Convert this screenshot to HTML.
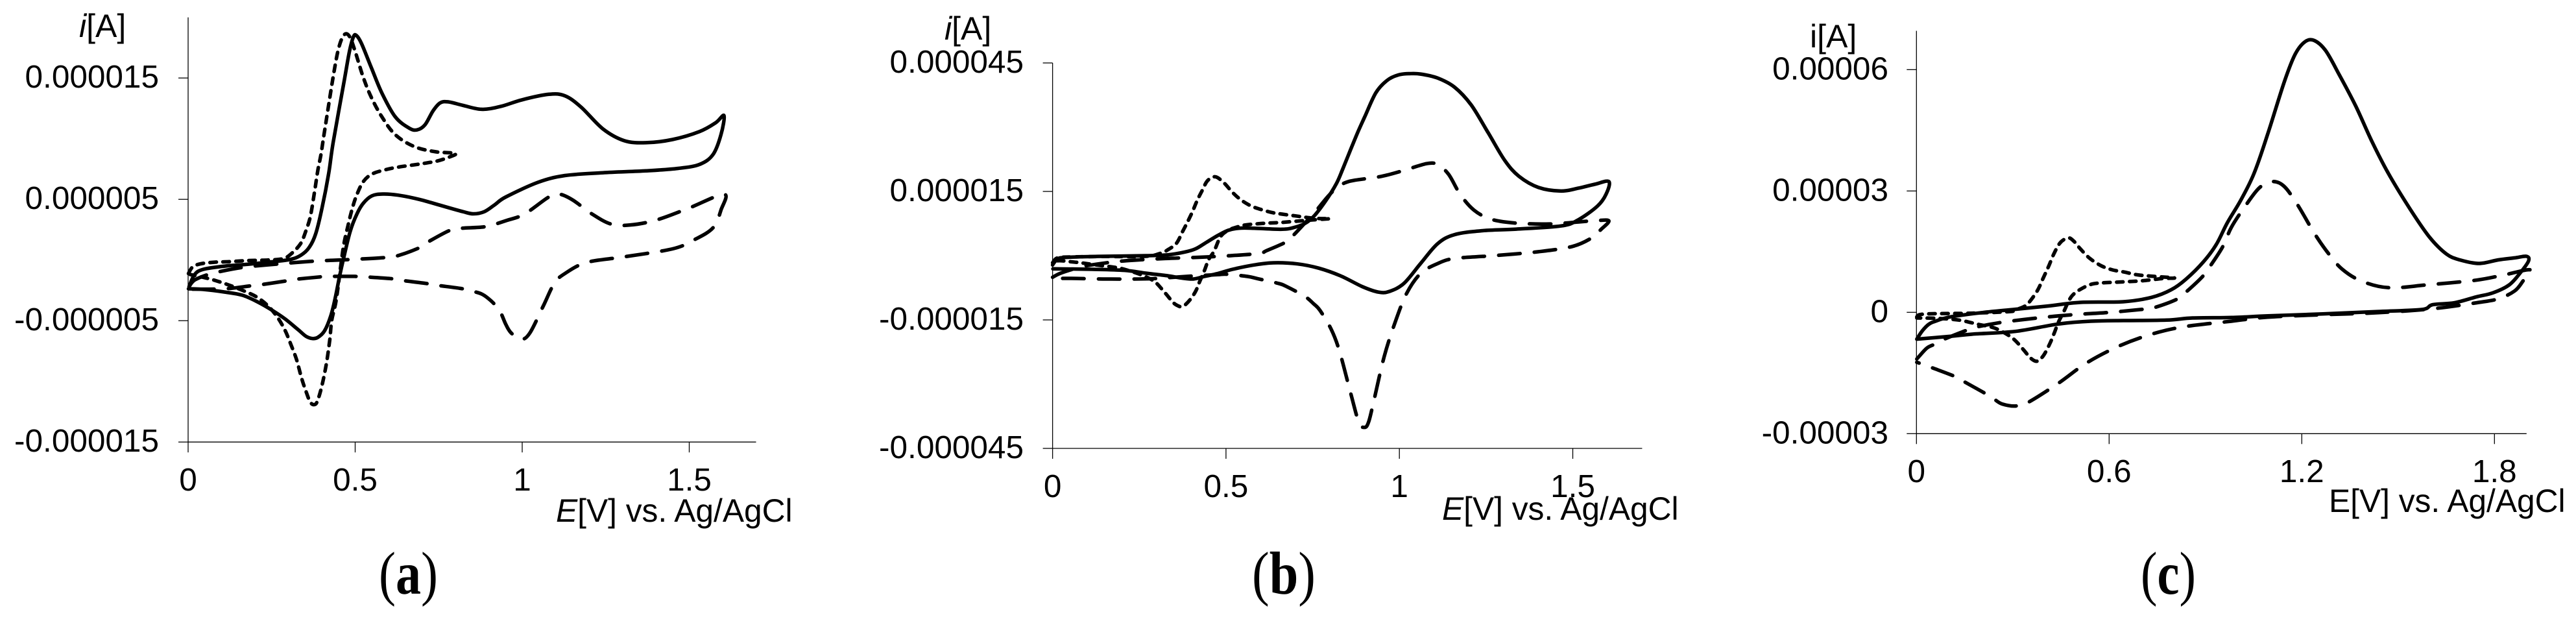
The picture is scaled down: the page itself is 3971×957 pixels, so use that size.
<!DOCTYPE html>
<html lang="en">
<head>
<meta charset="utf-8">
<title>Cyclic voltammograms (a), (b), (c)</title>
<style>
html,body{margin:0;padding:0;background:#fff;}
svg{display:block;}
text{font-family:"Liberation Sans",sans-serif;fill:#000;}
.serif{font-family:"Liberation Serif",serif;}
</style>
</head>
<body>
<svg id="chart" xmlns="http://www.w3.org/2000/svg" width="3971" height="957" viewBox="0 0 3971 957">
<rect x="0" y="0" width="3971" height="957" fill="#fff"/>
<text x="122" y="57" font-size="50"><tspan font-style="italic">i</tspan>[A]</text>
<text x="857" y="804" font-size="49.7"><tspan font-style="italic">E</tspan>[V] vs. Ag/AgCl</text>
<text class="serif" x="584" y="915" font-size="93" textLength="91" lengthAdjust="spacingAndGlyphs">(<tspan font-weight="bold">a</tspan>)</text>
<text x="1456" y="61" font-size="50"><tspan font-style="italic">i</tspan>[A]</text>
<text x="2223" y="801" font-size="49.7"><tspan font-style="italic">E</tspan>[V] vs. Ag/AgCl</text>
<text class="serif" x="1930" y="915" font-size="93" textLength="98" lengthAdjust="spacingAndGlyphs">(<tspan font-weight="bold">b</tspan>)</text>
<text x="2790" y="73" font-size="50">i[A]</text>
<text x="3590" y="789" font-size="49.7">E[V] vs. Ag/AgCl</text>
<text class="serif" x="3300" y="915" font-size="93" textLength="85" lengthAdjust="spacingAndGlyphs">(<tspan font-weight="bold">c</tspan>)</text>
</svg>
<script>
// Tick values: E in V, i in microamps; labels as printed (amps).
const aXTicks = [0, 0.5, 1, 1.5];
const aXLabels = ["0", "0.5", "1", "1.5"];
const aYTicks = [15, 5, -5, -15];
const aYLabels = ["0.000015", "0.000005", "-0.000005", "-0.000015"];
const bXTicks = [0, 0.5, 1, 1.5];
const bXLabels = ["0", "0.5", "1", "1.5"];
const bYTicks = [45, 15, -15, -45];
const bYLabels = ["0.000045", "0.000015", "-0.000015", "-0.000045"];
const cXTicks = [0, 0.6, 1.2, 1.8];
const cXLabels = ["0", "0.6", "1.2", "1.8"];
const cYTicks = [60, 30, 0, -30];
const cYLabels = ["0.00006", "0.00003", "0", "-0.00003"];

// Panel (a) series
const aSolidE = [.003,.019,.045,.11,.175,.239,.304,.337,.362,.382,.401,.421,.434,.467,.483,.495,.504,.519,.548,.58,.62,.661,.685,.709,.733,.754,.777,.822,.878,.935,.999,1.08,1.128,1.176,1.241,1.305,1.37,1.45,1.531,1.579,1.604,1.595,1.571,1.531,1.467,1.37,1.241,1.128,1.048,.951,.919,.887,.854,.822,.757,.693,.628,.583,.55,.524,.505,.485,.466,.453,.44,.427,.408,.388,.372,.353,.33,.291,.252,.207,.162,.11,.045,.001];
const aSolidI = [-2.19,-1.21,-.77,-.5,-.36,-.18,.04,.39,1.02,2.17,4.31,7.17,9.66,14.74,17.19,18.4,18.5,17.84,15.88,13.76,11.8,10.88,10.72,11.14,12.29,12.94,13.04,12.75,12.42,12.65,13.2,13.66,13.53,12.61,10.82,9.84,9.67,9.93,10.59,11.31,11.9,10.33,8.69,7.88,7.55,7.35,7.19,6.96,6.41,5.2,4.58,3.99,3.81,3.99,4.49,4.99,5.35,5.44,5.29,4.67,3.78,2.35,.21,-1.39,-3.17,-4.6,-5.85,-6.38,-6.47,-6.29,-5.76,-4.87,-4.15,-3.44,-2.9,-2.64,-2.42,-2.37];
const aShortE = [.001,.013,.036,.078,.123,.175,.239,.285,.311,.337,.353,.366,.378,.388,.398,.408,.435,.451,.467,.483,.5,.524,.548,.58,.62,.677,.741,.8,.783,.744,.693,.628,.589,.55,.524,.505,.492,.479,.466,.456,.443,.43,.424,.414,.401,.388,.379,.366,.353,.34,.324,.307,.291,.269,.24,.207,.175,.123,.078,.039,.006];
const aShortI = [-1.12,-.59,-.32,-.18,-.14,-.05,0,.12,.57,1.37,2.44,3.6,5.56,7.34,8.77,10.55,15.23,17.5,18.56,18.43,17.19,15.07,13.43,11.8,10.33,9.35,8.92,8.79,8.5,8.15,7.91,7.65,7.43,7.08,6.45,5.38,4.31,2.89,1.28,-.68,-3.35,-4.96,-6.56,-8.52,-10.3,-11.55,-11.91,-11.73,-10.84,-9.77,-8.16,-6.92,-5.85,-4.78,-3.8,-3.08,-2.64,-2.07,-1.66,-1.39,-1.2];
const aLongE = [.003,.019,.058,.097,.168,.272,.379,.485,.592,.628,.693,.722,.783,.819,.89,.951,1.007,1.08,1.112,1.152,1.209,1.265,1.322,1.402,1.499,1.604,1.595,1.571,1.515,1.45,1.305,1.193,1.128,1.096,1.064,1.023,.996,.967,.951,.932,.906,.88,.848,.816,.741,.712,.634,.605,.531,.498,.424,.395,.32,.288,.214,.184,.11,.002];
const aLongI = [-2.19,-1.66,-1.21,-.94,-.59,-.32,-.09,.04,.21,.36,1.02,1.55,2.44,2.62,2.75,3.24,3.79,5.2,5.42,4.93,3.79,2.97,2.88,3.3,4.28,5.42,4.12,2.65,1.67,.92,.26,-.2,-1.11,-1.93,-3.73,-6.01,-6.54,-6.01,-5.31,-4.15,-3.35,-2.82,-2.55,-2.34,-2.07,-1.93,-1.66,-1.53,-1.39,-1.35,-1.35,-1.39,-1.6,-1.75,-2.05,-2.14,-2.37,-2.4];

// Panel (b) series
const bSolidE = [0,.014,.039,.145,.269,.332,.382,.413,.444,.475,.506,.537,.581,.662,.7,.731,.756,.787,.818,.837,.858,.88,.9,.932,.964,.997,1.03,1.061,1.11,1.159,1.207,1.256,1.304,1.345,1.401,1.466,1.515,1.563,1.604,1.596,1.571,1.515,1.466,1.337,1.239,1.159,1.11,1.061,1.013,.972,.94,.893,.83,.768,.706,.637,.581,.519,.475,.438,.406,.369,.332,.269,.207,.113,.001];
const bSolidI = [-2.17,-.81,-.4,-.15,0,.2,.86,1.62,3.13,4.65,5.91,6.41,6.41,6.16,6.67,7.68,9.44,12.73,16.77,20.3,24.5,28.8,32.4,38,40.9,42.2,42.5,42.41,41.48,39.35,35.19,28.7,22.22,18.52,15.93,15.09,15.74,16.67,17.31,14.35,11.57,8.33,6.94,6.2,5.83,4.91,2.78,-1.85,-6.48,-8.33,-8.52,-7.22,-4.7,-2.93,-1.92,-1.67,-2.17,-3.18,-4.19,-4.85,-5.45,-5.2,-4.7,-4.09,-3.43,-3.18,-3.08];
const bShortE = [0,.014,.051,.145,.269,.313,.332,.357,.375,.388,.403,.416,.43,.447,.469,.494,.519,.544,.572,.6,.631,.662,.7,.731,.762,.8,.762,.724,.662,.606,.556,.531,.506,.484,.466,.45,.438,.422,.413,.397,.375,.357,.344,.325,.3,.282,.251,.207,.176,.126,.082,.051,.02,.001];
const bShortI = [-1.67,-.51,-.3,-.2,-.15,.61,1.36,2.88,5.66,7.68,10.2,12.73,15,17.53,18.43,17.02,14.75,12.98,11.62,10.81,10.1,9.7,9.29,8.94,8.69,8.64,8.43,8.18,7.78,7.53,7.17,6.67,5.91,4.39,1.11,-.91,-3.43,-6.46,-8.23,-10.25,-11.87,-11.52,-10.6,-8.74,-6.46,-5.45,-4.34,-3.18,-2.68,-2.17,-1.67,-1.41,-1.16,-1.41];
const bLongE = [0,.02,.051,.085,.17,.235,.325,.416,.503,.594,.618,.675,.696,.731,.762,.793,.818,.843,.873,.948,1.013,1.078,1.11,1.142,1.175,1.215,1.264,1.337,1.434,1.515,1.563,1.604,1.58,1.555,1.498,1.401,1.272,1.159,1.11,1.061,1.021,.989,.956,.924,.911,.9,.883,.859,.827,.803,.771,.753,.727,.675,.65,.59,.562,.503,.475,.413,.322,.294,.232,.145,.054,.001];
const bLongI = [-5.05,-4.19,-3.33,-2.53,-1.52,-1.06,-.66,-.4,-.05,.51,1.21,3.28,4.9,7.93,10.71,13.74,15.76,17.02,17.63,18.52,19.91,21.48,21.3,18.98,14.35,10.65,8.52,7.59,7.41,7.87,8.15,8.15,6.02,4.17,2.13,.93,0,-.65,-1.85,-4.17,-8.8,-15.28,-23.61,-34.72,-38.89,-40.09,-38.89,-31.94,-22.22,-17.13,-12.78,-11.26,-9.49,-7.22,-6.46,-5.35,-4.85,-4.34,-4.44,-4.7,-5.2,-5.35,-5.45,-5.45,-5.3,-5.35];

// Panel (c) series
const cSolidE = [.001,.018,.038,.059,.106,.207,.308,.409,.51,.644,.732,.793,.84,.894,.934,.968,1.009,1.051,1.094,1.145,1.179,1.21,1.239,1.274,1.316,1.368,1.419,1.47,1.538,1.598,1.65,1.692,1.752,1.812,1.863,1.9,1.906,1.88,1.846,1.795,1.744,1.675,1.607,1.573,1.436,1.265,1.094,.981,.86,.779,.644,.543,.442,.308,.173,.106,.001];
const cSolidI = [-6.63,-4.6,-2.99,-2.19,-1.12,-.05,.75,1.55,2.46,2.62,3.69,5.56,8.24,12.51,16.79,22.14,27.6,34.28,44.11,56.88,63.75,66.9,67.2,64.73,58.84,50.98,42.14,34.28,25.44,18.57,14.44,12.97,12.08,12.97,13.46,13.85,12.67,9.72,6.78,4.81,3.83,2.36,1.87,.69,.2,-.39,-.88,-1.28,-1.39,-1.93,-2.03,-2.19,-2.89,-4.71,-5.4,-5.94,-6.63];
const cShortE = [.001,.025,.173,.294,.318,.338,.355,.378,.395,.412,.429,.449,.473,.49,.51,.54,.577,.611,.648,.685,.732,.803,.766,.705,.658,.618,.577,.543,.51,.486,.473,.459,.442,.429,.415,.395,.375,.355,.335,.308,.281,.24,.193,.133,.065,.001];
const cShortI = [-1.12,-.43,-.21,.21,.86,1.56,2.89,5.56,8.5,11.44,14.65,17.33,18.4,17.59,15.72,13.32,11.44,10.48,9.95,9.3,8.93,8.5,8.34,7.81,7.59,7.43,7.27,6.9,5.67,4.22,2.62,.21,-2.46,-5.13,-7.81,-10.75,-12.09,-11.28,-9.41,-7.01,-5.4,-3.8,-2.99,-1.93,-1.5,-1.39];
const cLongE = [.001,.032,.059,.092,.16,.193,.267,.378,.486,.597,.705,.739,.809,.836,.89,.914,.954,.981,1.026,1.068,1.108,1.145,1.188,1.239,1.282,1.325,1.385,1.47,1.59,1.744,1.829,1.911,1.889,1.863,1.812,1.744,1.607,1.436,1.265,1.094,.981,.836,.732,.631,.53,.442,.348,.308,.267,.244,.213,.149,.119,.048,.011,.001];
const cLongI = [-11.55,-8.88,-7.81,-6.47,-4.33,-3.53,-2.46,-1.39,-.59,-.05,.75,1.12,3.16,4.76,8.77,11.34,16.26,21.07,26.5,30.8,32.32,31.14,26.42,19.55,14.64,10.71,7.76,6.09,6.78,7.96,9.23,10.51,7.76,5.3,3.34,2.36,.88,-.1,-.59,-1.2,-2.19,-3.53,-5.4,-8.34,-12.51,-17.54,-22.25,-23.16,-22.67,-21.6,-20,-17.17,-15.83,-13.69,-12.62,-12.35];

const svg = document.getElementById('chart');
const NS = 'http://www.w3.org/2000/svg';

function makeScaleX(x0, pxPerVolt) { return function (v) { return x0 + v * pxPerVolt; }; }
function makeScaleY(y0, pxPerMicroamp) { return function (v) { return y0 - v * pxPerMicroamp; }; }

function addLine(x1, y1, x2, y2, name) {
  const el = document.createElementNS(NS, 'line');
  el.setAttribute('x1', x1);
  el.setAttribute('y1', y1);
  el.setAttribute('x2', x2);
  el.setAttribute('y2', y2);
  el.setAttribute('stroke', '#000');
  el.setAttribute('stroke-width', '1.3');
  
  
  svg.appendChild(el);
}

function addLabel(x, y, anchor, content, name) {
  const el = document.createElementNS(NS, 'text');
  el.setAttribute('x', x);
  el.setAttribute('y', y);
  el.setAttribute('font-size', '49.5');
  el.setAttribute('text-anchor', anchor);
  el.textContent = content;
  
  
  svg.appendChild(el);
}

function drawAxes(p, sx, sy) {
  addLine(sx(0), sy(p.yMax), sx(0), sy(p.yMin), p.id + '-y-axis');
  addLine(sx(0), sy(p.yMin), sx(p.xMax), sy(p.yMin), p.id + '-x-axis');
  p.xTicks.forEach(function (t, k) {
    addLine(sx(t), sy(p.yMin), sx(t), sy(p.yMin) + 16, p.id + '-x-tick');
    addLabel(sx(t), p.xLabelBaseline, 'middle', p.xLabels[k], p.id + '-x-tick-label');
  });
  p.yTicks.forEach(function (t, k) {
    addLine(sx(0) - 15, sy(t), sx(0), sy(t), p.id + '-y-tick');
    addLabel(p.yLabelRight, sy(t) + 15, 'end', p.yLabels[k], p.id + '-y-tick-label');
  });
}

function drawCurve(es, is, sx, sy, dash, name) {
  const pts = es.map(function (e, k) { return [sx(e), sy(is[k])]; });
  let d = 'M' + pts[0][0].toFixed(1) + ' ' + pts[0][1].toFixed(1);
  for (let k = 0; k < pts.length - 1; k++) {
    const p0 = pts[Math.max(k - 1, 0)], p1 = pts[k], p2 = pts[k + 1], p3 = pts[Math.min(k + 2, pts.length - 1)];
    const c1x = p1[0] + (p2[0] - p0[0]) / 6, c1y = p1[1] + (p2[1] - p0[1]) / 6;
    const c2x = p2[0] - (p3[0] - p1[0]) / 6, c2y = p2[1] - (p3[1] - p1[1]) / 6;
    d += 'C' + c1x.toFixed(1) + ' ' + c1y.toFixed(1) + ' ' + c2x.toFixed(1) + ' ' + c2y.toFixed(1) + ' ' + p2[0].toFixed(1) + ' ' + p2[1].toFixed(1);
  }
  const el = document.createElementNS(NS, 'path');
  el.setAttribute('d', d);
  el.setAttribute('fill', 'none');
  el.setAttribute('stroke', '#000');
  el.setAttribute('stroke-width', '5.5');
  el.setAttribute('stroke-linejoin', 'round');
  el.setAttribute('stroke-linecap', 'round');
  if (dash) el.setAttribute('stroke-dasharray', dash);
  
  
  svg.appendChild(el);
}

const SHORT_DASH = '10 10';
const LONG_DASH = '33 22';

function drawPanel(p) {
  const sx = makeScaleX(p.x0, p.pxPerVolt);
  const sy = makeScaleY(p.y0, p.pxPerMicroamp);
  drawAxes(p, sx, sy);
  drawCurve(p.longE, p.longI, sx, sy, LONG_DASH, p.id + '-long-dash-curve');
  drawCurve(p.shortE, p.shortI, sx, sy, SHORT_DASH, p.id + '-short-dash-curve');
  drawCurve(p.solidE, p.solidI, sx, sy, null, p.id + '-solid-curve');
}

drawPanel({ id: 'panel-a', x0: 290, pxPerVolt: 515, y0: 400.7, pxPerMicroamp: 18.7, xMax: 1.7, yMax: 20, yMin: -15, xLabelBaseline: 756, yLabelRight: 245,
  xTicks: aXTicks, xLabels: aXLabels, yTicks: aYTicks, yLabels: aYLabels,
  solidE: aSolidE, solidI: aSolidI, shortE: aShortE, shortI: aShortI, longE: aLongE, longI: aLongI });
drawPanel({ id: 'panel-b', x0: 1622.6, pxPerVolt: 534.6, y0: 394, pxPerMicroamp: 6.6, xMax: 1.7, yMax: 45, yMin: -45, xLabelBaseline: 766, yLabelRight: 1578,
  xTicks: bXTicks, xLabels: bXLabels, yTicks: bYTicks, yLabels: bYLabels,
  solidE: bSolidE, solidI: bSolidI, shortE: bShortE, shortI: bShortI, longE: bLongE, longI: bLongI });
drawPanel({ id: 'panel-c', x0: 2954.3, pxPerVolt: 495, y0: 481.3, pxPerMicroamp: 6.233, xMax: 1.9, yMax: 69.6, yMin: -30, xLabelBaseline: 743, yLabelRight: 2911,
  xTicks: cXTicks, xLabels: cXLabels, yTicks: cYTicks, yLabels: cYLabels,
  solidE: cSolidE, solidI: cSolidI, shortE: cShortE, shortI: cShortI, longE: cLongE, longI: cLongI });
</script>
</body>
</html>
